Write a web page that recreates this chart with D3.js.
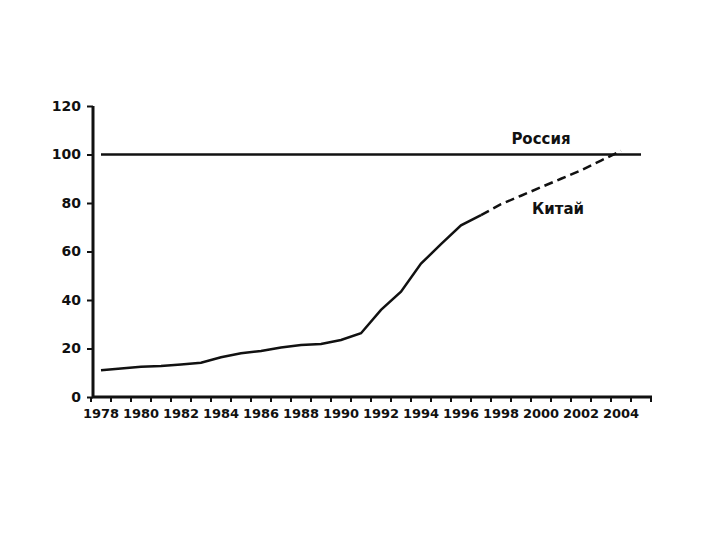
<!DOCTYPE html>
<meta charset="utf-8">
<style>
body { margin: 0; background: #fff; }
text { font-family: "DejaVu Sans", Verdana, sans-serif; font-weight: bold; fill: #111; }
.line { fill: none; stroke: #111; stroke-width: 2.5px; }
</style>
<svg width="720" height="540"></svg>
<script src="https://d3js.org/d3.v7.min.js"></script>
<script>
// categories on the x axis (one band per year)
var years = d3.range(1978, 2006);
var labelYears = d3.range(1978, 2005, 2);
var yTicks = [0, 20, 40, 60, 80, 100, 120];

// China, actual (solid) and projected (dashed)
var chinaYears = [1978, 1979, 1980, 1981, 1982, 1983, 1984, 1985, 1986, 1987, 1988, 1989, 1990, 1991, 1992, 1993, 1994, 1995, 1996, 1997];
var chinaValues = [11, 11.8, 12.5, 12.8, 13.4, 14.1, 16.4, 18, 19, 20.4, 21.4, 21.9, 23.5, 26.3, 35.9, 43.4, 55, 63, 70.8, 75];
var projYears = [1997, 1998, 1999, 2000, 2001, 2002, 2003, 2004];
var projValues = [75, 79.5, 83, 86.5, 90, 93.5, 97.5, 101.5];

// Russia = 100
var russiaYears = [1978, 2005];
var russiaValues = [100, 100];

var svg = d3.select("svg");

var x = d3.scaleBand().domain(years).range([91, 651]);
var y = d3.scaleLinear().domain([0, 120]).range([397, 106]);
var cx = function(yr) { return x(yr) + x.bandwidth() / 2; };

var zip = function(a, b) { return a.map(function(v, i) { return {x: v, y: b[i]}; }); };
var line = d3.line()
    .x(function(d) { return cx(d.x); })
    .y(function(d) { return y(d.y); });

// y axis
var yAxis = svg.append("g")
    .attr("transform", "translate(93,0)")
    .call(d3.axisLeft(y).tickValues(yTicks).tickSize(6).tickPadding(6));
yAxis.select(".domain").attr("stroke", "#111").attr("stroke-width", 3).attr("d", "M0," + y(120) + "V" + y(0));
yAxis.selectAll(".tick line").attr("stroke", "#111").attr("stroke-width", 2);
yAxis.selectAll("text").style("font-size", "14px");

// x axis: labels every other year, ticks at band boundaries
var xAxis = svg.append("g")
    .attr("transform", "translate(0,397)")
    .call(d3.axisBottom(x).tickValues(labelYears).tickSize(0).tickPadding(12));
xAxis.select(".domain").remove();
xAxis.selectAll("text").style("font-size", "13px");

svg.append("line")
    .attr("x1", 92).attr("x2", x.range()[1] + 1)
    .attr("y1", 397).attr("y2", 397)
    .attr("stroke", "#111").attr("stroke-width", 3);

svg.append("g").selectAll("line")
    .data(years.map(function(d) { return x(d); }).concat([x.range()[1]]))
    .join("line")
    .attr("x1", function(d) { return d; }).attr("x2", function(d) { return d; })
    .attr("y1", 397).attr("y2", 402)
    .attr("stroke", "#111").attr("stroke-width", 2);

// Russia
svg.append("path")
    .datum(zip(russiaYears, russiaValues))
    .attr("class", "line")
    .attr("stroke-width", 3)
    .attr("d", line);

// China
svg.append("path")
    .datum(zip(chinaYears, chinaValues))
    .attr("class", "line")
    .attr("d", line);

svg.append("path")
    .datum(zip(projYears, projValues))
    .attr("class", "line")
    .attr("stroke-dasharray", "9,5")
    .attr("d", line);

svg.append("text")
    .attr("x", 541).attr("y", 144)
    .attr("text-anchor", "middle")
    .style("font-size", "15px")
    .text("Россия");

svg.append("text")
    .attr("x", 558).attr("y", 214)
    .attr("text-anchor", "middle")
    .style("font-size", "15px")
    .text("Китай");
</script>
